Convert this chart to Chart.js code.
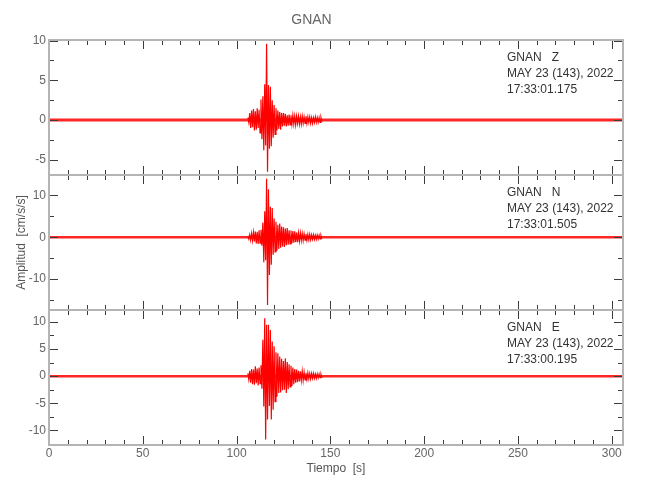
<!DOCTYPE html>
<html>
<head>
<meta charset="utf-8">
<script src="https://cdn.jsdelivr.net/npm/chart.js@4.4.1/dist/chart.umd.min.js"></script>
<style>
  body { margin: 0; background: #fff; }
  #wrap { position: relative; width: 650px; height: 500px; }
  .panel { position: absolute; left: 0; width: 650px; }
</style>
</head>
<body>
<div id="wrap">
  <div class="panel" style="top:0px;height:177px"><canvas id="panelZ"></canvas></div>
  <div class="panel" style="top:173px;height:139px"><canvas id="panelN"></canvas></div>
  <div class="panel" style="top:308px;height:192px"><canvas id="panelE"></canvas></div>
</div>
<script>
// time (s) of the samples read around the event
const eventTimes = [
  106, 106.5, 107, 107.5, 108, 108.5, 109, 109.5, 110, 110.5,
  111, 111.5, 112, 112.5, 113, 113.5, 114, 114.5, 115, 115.5,
  116, 116.5, 117, 117.5, 118, 118.5, 119, 119.5, 120, 120.5,
  121, 121.5, 122, 122.5, 123, 123.5, 124, 124.5, 125, 125.5,
  126, 126.5, 127, 127.5, 128, 128.5, 129, 129.5, 130, 130.5,
  131, 131.5, 132, 132.5, 133, 133.5, 134, 134.5, 135, 135.5,
  136, 136.5, 137, 137.5, 138, 138.5, 139, 139.5, 140, 140.5,
  141, 141.5, 142, 142.5, 143, 143.5, 144, 144.5, 145, 145.5
];

// amplitudes (cm/s/s), one per eventTimes entry
const zValues = [
  0.3, -0.3, 0.9, -1.0, 1.2, -0.9, 1.4, -1.3, 1.1, -1.2,
  1.5, -1.0, 1.3, -1.6, 2.6, -2.4, 3.0, -3.8, 4.5, -3.2,
  9.6, -6.5, 4.4, -3.6, 4.2, -3.3, 2.5, -2.2, 1.9, -1.8,
  1.5, -1.3, 1.2, -1.1, 1.0, -1.2, 0.9, -0.8, 0.9, -0.7,
  0.8, -0.8, 0.6, -0.7, 0.7, -0.6, 0.6, -0.5, 0.6, -0.5,
  0.5, -0.6, 0.5, -0.4, 0.5, -0.5, 0.4, -0.5, 0.5, -0.4,
  0.4, -0.4, 0.5, -0.4, 0.4, -0.3, 0.4, -0.4, 0.3, -0.4,
  0.3, -0.3, 0.4, -0.3, 0.3, -0.3, 0.3, -0.3, 0.3, -0.2
];
const nValues = [
  0.3, -0.4, 0.6, -0.7, 0.9, -0.8, 1.2, -1.0, 1.4, -1.5,
  1.3, -1.6, 1.7, -1.4, 1.8, -2.0, 3.5, -6.0, 6.2, -5.5,
  14.0, -16.2, 11.5, -9.0, 7.3, -6.6, 7.0, -4.2, 4.5, -3.5,
  3.7, -3.2, 3.0, -2.8, 3.3, -2.5, 2.6, -2.2, 2.4, -2.3,
  2.1, -1.9, 2.2, -1.8, 1.7, -1.6, 1.6, -1.4, 1.5, -1.3,
  1.4, -1.2, 1.1, -1.2, 1.0, -0.9, 1.0, -0.8, 0.9, -0.8,
  0.8, -0.7, 0.8, -0.7, 0.7, -0.6, 0.7, -0.6, 0.6, -0.5,
  0.6, -0.5, 0.5, -0.5, 0.5, -0.4, 0.5, -0.4, 0.4, -0.4
];
const eValues = [
  0.5, -0.6, 1.0, -1.2, 1.3, -1.5, 1.2, -1.6, 1.8, -1.3,
  1.4, -1.7, 1.6, -1.4, 2.0, -2.3, 6.7, -5.6, 10.7, -11.7,
  9.5, -8.0, 9.5, -5.5, 8.5, -8.0, 6.4, -6.2, 5.5, -4.7,
  4.4, -3.8, 4.2, -3.1, 3.6, -3.0, 3.2, -2.6, 2.8, -2.5,
  3.3, -3.1, 2.6, -2.4, 2.2, -2.0, 1.9, -1.8, 1.6, -1.5,
  1.3, -1.2, 1.2, -1.1, 1.0, -1.0, 0.9, -0.8, 0.9, -0.8,
  0.7, -0.7, 0.6, -0.6, 0.6, -0.5, 0.5, -0.5, 0.5, -0.4,
  0.5, -0.4, 0.4, -0.4, 0.4, -0.3, 0.4, -0.3, 0.3, -0.3
];

// background noise level over the whole record
const recordTimes = [0, 306];
const noiseLevel = [0, 0];

const timeTicks = [0, 50, 100, 150, 200, 250, 300];
const zTicks = [-5, 0, 5, 10];
const nTicks = [-10, 0, 10];
const eTicks = [-10, -5, 0, 5, 10];

const zLabel = ['GNAN   Z', 'MAY 23 (143), 2022', '17:33:01.175'];
const nLabel = ['GNAN   N', 'MAY 23 (143), 2022', '17:33:01.505'];
const eLabel = ['GNAN   E', 'MAY 23 (143), 2022', '17:33:00.195'];

const FONT = "'Liberation Sans', Arial, sans-serif";
const RED = '#ff0000';

// frame with inward tick marks + station text
const framePlugin = {
  id: 'frame',
  afterDraw(chart, args, opts) {
    const { ctx, chartArea: a, scales: { x, y } } = chart;
    ctx.save();
    ctx.strokeStyle = '#3c3c3c';
    ctx.lineWidth = 1;
    ctx.beginPath();
    for (let v = 0; v <= x.max; v += 10) {
      const px = Math.round(x.getPixelForValue(v)) + 0.5;
      const len = v % 50 === 0 ? 9 : 5;
      ctx.moveTo(px, a.top); ctx.lineTo(px, a.top + len);
      ctx.moveTo(px, a.bottom); ctx.lineTo(px, a.bottom - len);
    }
    const start = Math.ceil(y.min / opts.yMinor) * opts.yMinor;
    for (let v = start; v <= y.max; v += opts.yMinor) {
      const py = Math.round(y.getPixelForValue(v)) + 0.5;
      const major = Math.abs(v / opts.yMajor - Math.round(v / opts.yMajor)) < 1e-6;
      const len = major ? 9 : 5;
      ctx.moveTo(a.left, py); ctx.lineTo(a.left + len, py);
      ctx.moveTo(a.right, py); ctx.lineTo(a.right - len, py);
    }
    ctx.stroke();

    ctx.strokeStyle = '#b4b4b4';
    ctx.lineWidth = 2;
    ctx.strokeRect(a.left, a.top, a.right - a.left, a.bottom - a.top);

    ctx.fillStyle = '#333';
    ctx.font = '12px ' + FONT;
    ctx.textBaseline = 'middle';
    opts.lines.forEach((t, i) => ctx.fillText(t, a.left + 458, a.top + 18 + i * 16));
    ctx.restore();
  }
};

function makePanel(id, values, range, ticks, lines, yMajor, yMinor, extra) {
  const wave = eventTimes.map((t, i) => ({ x: t, y: values[i] }));
  const noise = recordTimes.map((t, i) => ({ x: t, y: noiseLevel[i] }));
  const showX = !!extra.xTitle;
  return new Chart(document.getElementById(id), {
    type: 'line',
    data: {
      datasets: [
        { data: noise, borderColor: 'rgba(255,0,0,0.85)', borderWidth: extra.noiseWidth, pointRadius: 0 },
        { data: wave, borderColor: RED, borderWidth: 1.2, pointRadius: 0, tension: 0 }
      ]
    },
    options: {
      responsive: true,
      maintainAspectRatio: false,
      animation: false,
      layout: { padding: { top: extra.padTop, bottom: showX ? 0 : 2, left: 0, right: 27 } },
      plugins: {
        legend: { display: false },
        tooltip: { enabled: false },
        title: extra.title ? {
          display: true, text: extra.title, color: '#666',
          font: { family: FONT, size: 14, weight: 'normal' },
          padding: { top: 11.6, bottom: 11.6 }
        } : { display: false },
        frame: { lines: lines, yMajor: yMajor, yMinor: yMinor }
      },
      scales: {
        x: {
          type: 'linear', min: 0, max: 306,
          display: showX,
          afterBuildTicks: s => { s.ticks = timeTicks.map(v => ({ value: v })); },
          afterFit: s => {
            if (showX) s.height = 55;
            s.paddingLeft = 0; s.paddingRight = 0;
          },
          grid: { display: false, drawTicks: false },
          border: { display: false },
          ticks: { color: '#666', padding: 1, maxRotation: 0, font: { family: FONT, size: 12 } },
          title: {
            display: showX, text: extra.xTitle || '', color: '#555',
            font: { family: FONT, size: 12 },
            padding: { top: 0, bottom: 24 }
          }
        },
        y: {
          min: range[0], max: range[1],
          afterBuildTicks: s => { s.ticks = ticks.map(v => ({ value: v })); },
          afterFit: s => { s.width = 49; s.paddingTop = 0; s.paddingBottom = 0; },
          grid: { display: false, drawTicks: false },
          border: { display: false },
          ticks: { color: '#666', padding: 3, font: { family: FONT, size: 12 } },
          title: {
            display: !!extra.yTitle, text: extra.yTitle || '', color: '#555',
            font: { family: FONT, size: 12 },
            padding: { top: 14, bottom: 0 }
          }
        }
      }
    },
    plugins: [framePlugin]
  });
}

makePanel('panelZ', zValues, [-6.9, 10.07], zTicks, zLabel, 5, 2.5,
  { padTop: 0, title: 'GNAN', noiseWidth: 3 });
makePanel('panelN', nValues, [-17.4, 14.9], nTicks, nLabel, 10, 5,
  { padTop: 2, yTitle: 'Amplitud  [cm/s/s]', noiseWidth: 2.5 });
makePanel('panelE', eValues, [-12.7, 12.2], eTicks, eLabel, 5, 2.5,
  { padTop: 2, xTitle: 'Tiempo  [s]', noiseWidth: 2.5 });
</script>
</body>
</html>
